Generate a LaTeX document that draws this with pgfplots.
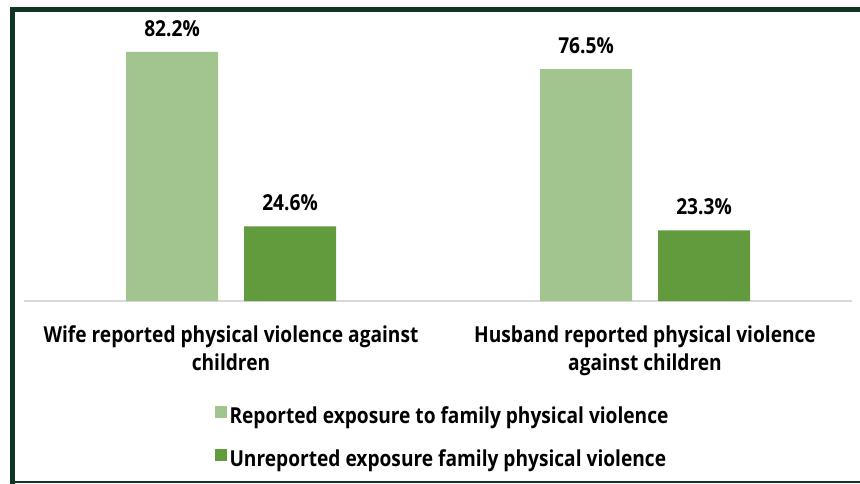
\documentclass[border=0pt]{standalone}
\usepackage{pgfplots}
\pgfplotsset{compat=1.18}
\usepackage{fontspec}
\setmainfont{Open Sans}[FakeStretch=0.87]
\definecolor{lightg}{HTML}{A2C590}
\definecolor{darkg}{HTML}{629A3E}
\definecolor{framec}{HTML}{0E3622}
\definecolor{axisgray}{HTML}{D9D9D9}
\begin{document}
\begin{tikzpicture}
\useasboundingbox (0,0) rectangle (860pt,483pt);
\fill[white] (0,0) rectangle (860pt,483pt);
\begin{axis}[
  at={(24pt,182pt)}, anchor=south west,
  scale only axis, width=828pt, height=303pt,
  xmin=-0.5, xmax=1.5, ymin=0, ymax=100,
  ybar=26pt, bar width=92pt,
  axis x line*=bottom, axis y line=none,
  x axis line style={draw=axisgray, line width=1.5pt, -},
  xtick={0,1},
  xticklabels={{Wife reported physical violence against\\children},{Husband reported physical violence\\against children}},
  xtick style={draw=none},
  ytick=\empty,
  /pgf/number format/assume math mode=true,
  xticklabel style={font=\bfseries\fontsize{22}{28}\selectfont, align=center, inner sep=0pt, yshift=-20pt},
  nodes near coords={\pgfmathprintnumber[fixed,fixed zerofill,precision=1,assume math mode=true]{\pgfplotspointmeta}\%},
  every node near coord/.append style={font=\bfseries\fontsize{22}{26}\selectfont, inner sep=0pt, yshift=15pt, anchor=south, text=black},
  legend style={at={(axis description cs:0.2307,-0.345)}, anchor=north west, draw=none, fill=none,
    inner sep=0pt, outer sep=0pt, font=\bfseries\fontsize{22}{26}\selectfont,
    row sep=21pt, nodes={inner xsep=2.5pt, inner ysep=0pt, text height=16pt, text depth=5pt}},
  legend cell align=left,
  legend image code/.code={\fill[#1] (0pt,0pt) rectangle (12pt,12pt);},
]
\addplot[fill=lightg, draw=none] coordinates {(0,82.2) (1,76.5)};
\addplot[fill=darkg, draw=none] coordinates {(0,24.6) (1,23.3)};
\legend{Reported exposure to family physical violence, Unreported exposure family physical violence}
\end{axis}
\draw[framec, line width=5pt] (12.5pt,-5pt) -- (12.5pt,473.5pt) -- (870pt,473.5pt);
\draw[framec, line width=2pt] (10pt,1pt) -- (870pt,1pt);
\end{tikzpicture}
\end{document}
